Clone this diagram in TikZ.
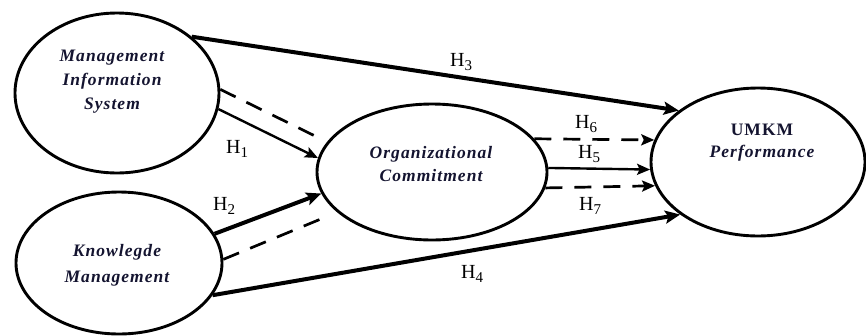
\documentclass[tikz,border=0pt]{standalone}
\usepackage{fontspec}
\setmainfont{Liberation Serif}
\newfontfamily\nodefont{Liberation Serif}[LetterSpace=6]
\newfontfamily\hfont{Liberation Serif}[LetterSpace=6]
\usetikzlibrary{shapes.geometric,arrows.meta}
\definecolor{navy}{RGB}{20,20,48}
\newcommand\hlab[1]{H\raisebox{-0.22em}{\fontsize{15}{15}\selectfont #1}}
\begin{document}
\begin{tikzpicture}[x=1pt,y=-1pt,
  elli/.style={ellipse, draw, line width=2.9pt, inner sep=0pt},
  strongarrow/.style={line width=4pt, -{Stealth[length=15pt,width=13pt,inset=3pt]}},
  thinarrow/.style={line width=2.4pt, -{Stealth[length=13pt,width=11pt,inset=2.5pt]}},
  dasharrow/.style={line width=2.7pt, dash pattern=on 17pt off 12pt, -{Stealth[length=13pt,width=11pt,inset=2.5pt]}},
  dashline/.style={line width=2.7pt, dash pattern=on 17pt off 12pt},
  nodetext/.style={font={\nodefont\fontsize{17.5}{24}\selectfont\bfseries\itshape}, text=navy, align=center, inner sep=0pt},
  hlabel/.style={font={\hfont\fontsize{20}{20}\selectfont}, text=black, inner sep=0pt, anchor=base west}]
\useasboundingbox (0,0) rectangle (866,335);
% ellipses
\node[elli, minimum width=204pt, minimum height=160pt] (mis) at (117,93) {};
\node[elli, minimum width=206pt, minimum height=142pt] (km) at (119,263) {};
\node[elli, minimum width=230pt, minimum height=136pt] (oc) at (432,172) {};
\node[elli, minimum width=214pt, minimum height=148pt] (umkm) at (758,162) {};
% texts
\node[nodetext] (misT) at (112,82) {Management\\Information\\System};
\node[nodetext, font={\nodefont\fontsize{17.5}{26}\selectfont\bfseries\itshape}] (kmT) at (117,265) {Knowlegde\\Management};
\node[nodetext, font={\nodefont\fontsize{17.5}{23}\selectfont\bfseries\itshape}] (ocT) at (431,164) {Organizational\\Commitment};
\node[nodetext, font={\nodefont\fontsize{17.5}{22}\selectfont\bfseries\itshape}] (umkmT) at (762,143) {{\upshape UMKM}\\Performance};
% connectors
\draw[strongarrow] (mis.37) -- (umkm.147);
\draw[dashline, shorten >=12pt] (mis.2) -- (oc.164);
\draw[thinarrow] (mis.-9) -- (oc.173);
\draw[strongarrow] (km.17) -- (oc.191);
\draw[dashline, shorten >=13pt] (km.2) -- (oc.203);
\draw[strongarrow] (km.-19) -- (umkm.214);
\draw[dasharrow] (oc.18) -- (umkm.168);
\draw[thinarrow] (oc.2) -- (umkm.184);
\draw[dasharrow] (oc.-8) -- (umkm.193);
% labels
\node[hlabel] (h1) at (226,153) {\hlab{1}};
\node[hlabel] (h2) at (213,210) {\hlab{2}};
\node[hlabel] (h3) at (450,66) {\hlab{3}};
\node[hlabel] (h4) at (461,278) {\hlab{4}};
\node[hlabel] (h5) at (578,158) {\hlab{5}};
\node[hlabel] (h6) at (575,128) {\hlab{6}};
\node[hlabel] (h7) at (579,210) {\hlab{7}};
\end{tikzpicture}
\end{document}
